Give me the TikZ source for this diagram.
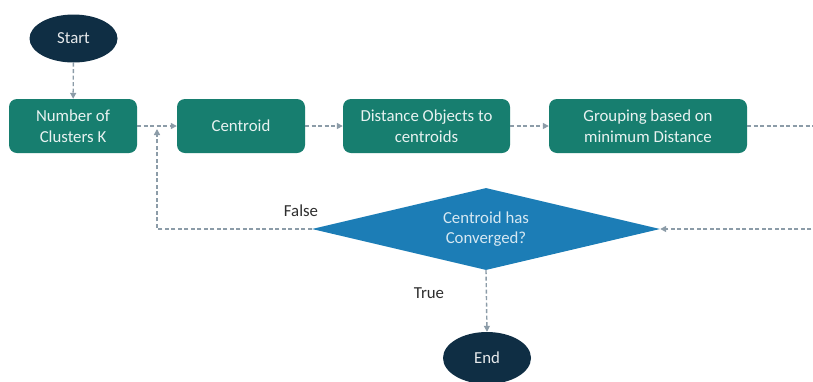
\documentclass[tikz,border=0pt]{standalone}
\usepackage{fontspec}
\setmainfont{Carlito}
\usetikzlibrary{shapes.geometric,arrows.meta}
\definecolor{procfill}{HTML}{177E6F}
\definecolor{termfill}{HTML}{0F2E44}
\definecolor{decfill}{HTML}{1C7DB6}
\definecolor{linkcol}{HTML}{8C9CA8}
\definecolor{labelcol}{HTML}{2E2E2E}
\tikzset{
  proc/.style={rectangle, rounded corners=8pt, fill=procfill, draw=none,
    minimum width=128pt, minimum height=54pt, align=center, inner sep=2pt,
    text=white!90!procfill, font=\fontsize{16.8}{21.5}\selectfont},
  term/.style={ellipse, fill=termfill, draw=none, inner sep=0pt,
    minimum width=88pt, minimum height=48pt,
    text=white!90!termfill, font=\fontsize{16.8}{20}\selectfont},
  decision/.style={diamond, aspect=4.24, fill=decfill, draw=none, inner sep=0pt,
    minimum width=348pt, minimum height=82pt, align=center,
    text=white!82!decfill, font=\fontsize{16.8}{20.5}\selectfont},
  lbl/.style={text=labelcol, font=\fontsize{16.8}{20}\selectfont},
  conn/.style={draw=linkcol, line width=1.4pt, dash pattern=on 4pt off 2.5pt,
    -{Triangle[length=6pt,width=6pt]}}
}
\begin{document}
\begin{tikzpicture}[x=1pt,y=-1pt]
\useasboundingbox[fill=white] (0,0) rectangle (813,381);
\clip (0,0) rectangle (813,381);

% flow nodes
\node[term] (start) at (73.5,38.5) {Start};
\node[proc] (k) at (73,126) {Number of\\Clusters K};
\node[proc] (c) at (241,126) {Centroid};
\node[proc, minimum width=167pt] (d) at (426.5,126) {Distance Objects to\\centroids};
\node[proc, minimum width=198pt] (g) at (648,126) {Grouping based on\\minimum Distance};
\node[decision] (q) at (486,229) {Centroid has\\Converged?};
\node[term, minimum height=52pt] (e) at (487,358) {End};

% branch labels
\node[lbl] (flabel) at (301,211) {False};
\node[lbl] (tlabel) at (429,293) {True};

% loop-back corner points
\coordinate (gr) at (835,126);
\coordinate (qr) at (835,229);
\coordinate (fb) at (157,229);
\coordinate (fj) at (157,129);

% connectors
\draw[conn] (start) -- (k);
\draw[conn] (k) -- (c);
\draw[conn] (c) -- (d);
\draw[conn] (d) -- (g);
\draw[conn] (g.east) -- (gr) -- (qr) -- (q.east);
\draw[conn] (q.west) -- (fb) -- (fj);
\draw[conn] (q.south) -- (e.north);
\end{tikzpicture}
\end{document}
